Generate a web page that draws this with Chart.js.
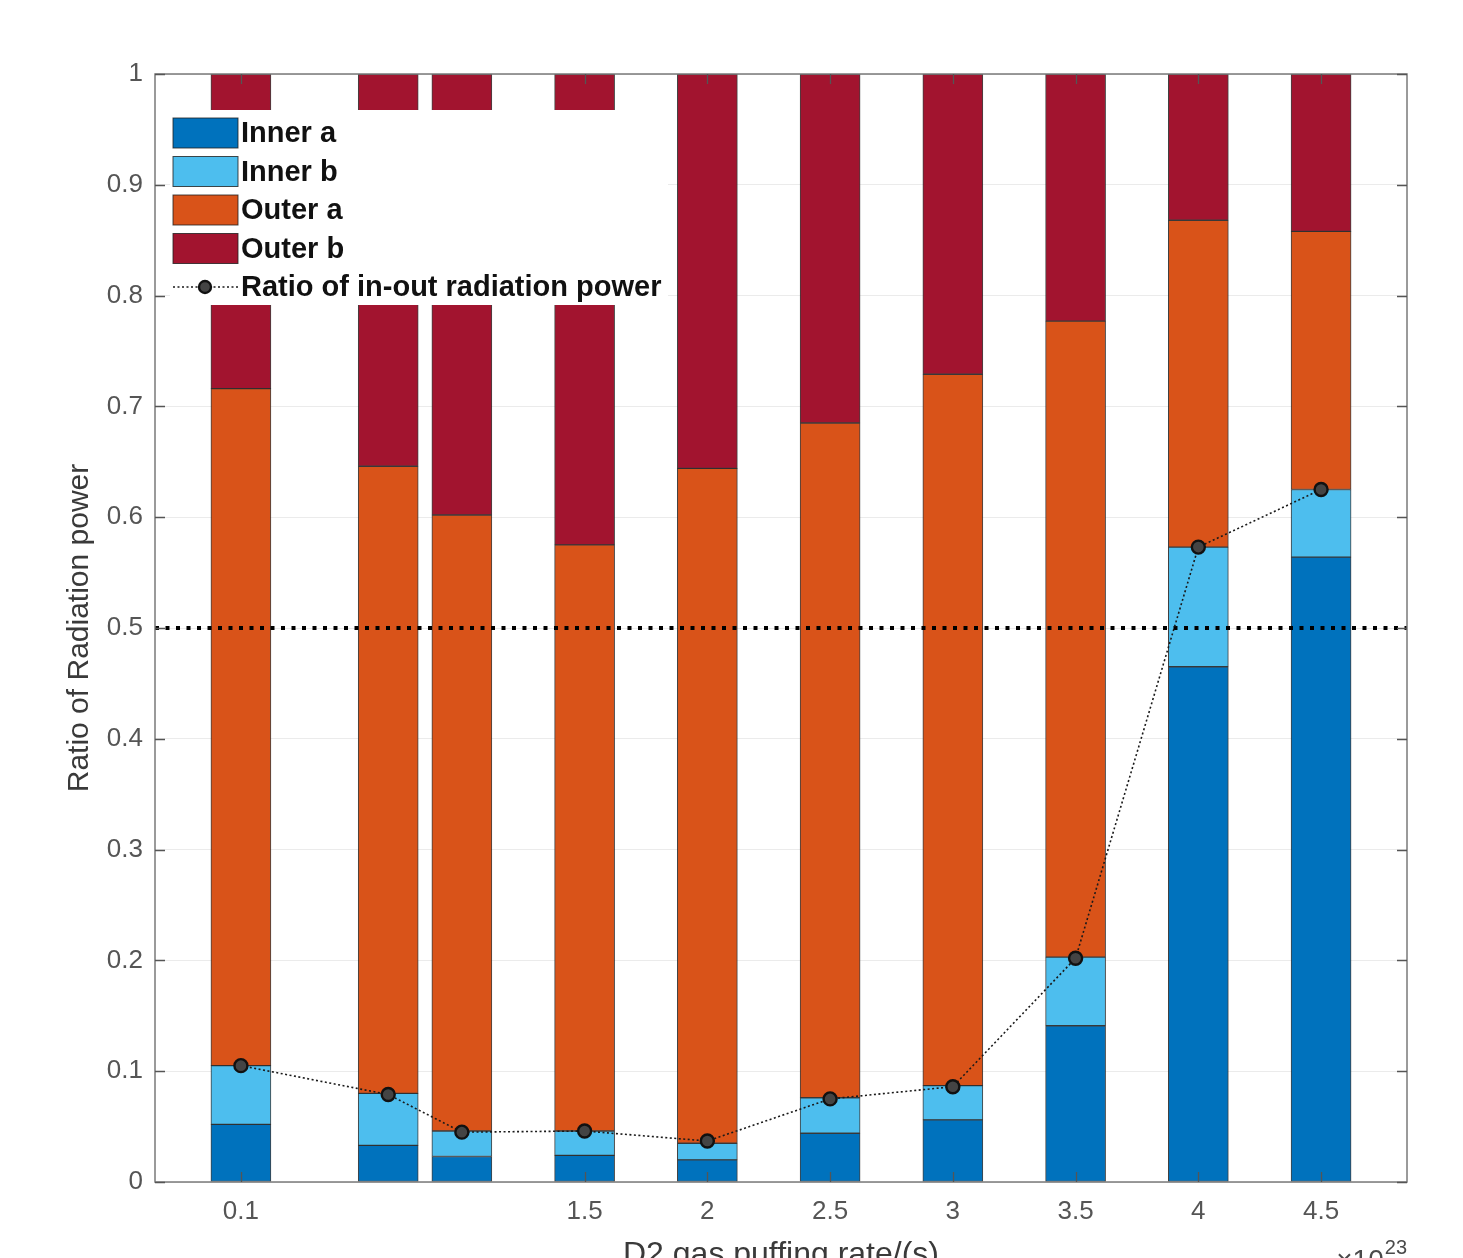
<!DOCTYPE html>
<html>
<head>
<meta charset="utf-8">
<script src="https://cdn.jsdelivr.net/npm/chart.js@4.4.1/dist/chart.umd.min.js"></script>
<style>
  html, body { margin: 0; padding: 0; background: #fff; overflow: hidden; }
  canvas { display: block; }
</style>
</head>
<body>
<canvas id="chart" width="1463" height="1258"></canvas>
<script>
// D2 gas puffing rate (x 10^23 /s)
const puffRates = [0.1, 0.7, 1.0, 1.5, 2.0, 2.5, 3.0, 3.5, 4.0, 4.5];

// Share of radiated power in each divertor region (stacked segments)
const innerA = [0.052, 0.033, 0.023, 0.024, 0.020, 0.044, 0.056, 0.141, 0.465, 0.564];
const innerB = [0.053, 0.047, 0.023, 0.022, 0.015, 0.032, 0.031, 0.062, 0.108, 0.061];
const outerA = [0.611, 0.566, 0.556, 0.529, 0.609, 0.609, 0.642, 0.574, 0.295, 0.233];
const outerB = [0.284, 0.354, 0.398, 0.425, 0.356, 0.315, 0.271, 0.223, 0.132, 0.142];

// Ratio of inner to total radiated power
const inOutRatio = [0.105, 0.079, 0.045, 0.046, 0.037, 0.075, 0.086, 0.202, 0.573, 0.625];

// Reference level
const halfLevel = 0.5;

// Axis ticks
const xTickValues = [0.1, 1.5, 2, 2.5, 3, 3.5, 4, 4.5];
const xRange = [-0.25, 4.85];
const yRange = [0, 1];
const yStep = 0.1;

const seriesNames = ['Inner a', 'Inner b', 'Outer a', 'Outer b'];
const seriesColors = ['#0072BD', '#4DBEEE', '#D95319', '#A2142F'];
const ratioName = 'Ratio of in-out radiation power';

const FONT = '"Liberation Sans", Arial, Helvetica, sans-serif';

const toPoints = (vals) => vals.map((v, i) => ({ x: puffRates[i], y: v }));

const barSets = [innerA, innerB, outerA, outerB].map((vals, i) => ({
  type: 'bar',
  label: seriesNames[i],
  data: toPoints(vals),
  backgroundColor: seriesColors[i],
  borderColor: 'rgba(30,30,30,0.85)',
  borderWidth: 1,
  borderSkipped: false,
  barThickness: 60,
  stack: 'regions',
  order: 1
}));

const ratioSet = {
  type: 'line',
  label: ratioName,
  data: toPoints(inOutRatio),
  borderColor: '#1a1a1a',
  borderWidth: 1.6,
  borderDash: [2, 2.5],
  pointRadius: 6.5,
  pointBorderWidth: 2.4,
  pointBorderColor: '#111',
  pointBackgroundColor: '#444',
  stack: 'ratio',
  order: -2,
  tension: 0
};

const halfSet = {
  type: 'line',
  label: 'half',
  data: [{ x: xRange[0], y: halfLevel }, { x: xRange[1], y: halfLevel }],
  borderColor: '#000',
  borderWidth: 4,
  borderDash: [4, 6.5],
  borderCapStyle: 'butt',
  pointRadius: 0,
  stack: 'half',
  order: -1
};

// Axes frame with inward ticks, in-plot legend, and the x-axis exponent
const framePlugin = {
  id: 'frame',
  afterDraw(chart) {
    const { ctx, chartArea: a, scales: { x, y } } = chart;
    ctx.save();

    // legend panel
    const lx = 170, ly = 110, lw = 498, lh = 195;
    ctx.fillStyle = '#fff';
    ctx.fillRect(lx, ly, lw, lh);
    const rowH = 38.5;
    const row0 = 133;
    ctx.font = 'bold 29px ' + FONT;
    ctx.textBaseline = 'middle';
    ctx.textAlign = 'left';
    seriesNames.forEach((name, i) => {
      const cy = row0 + i * rowH;
      ctx.fillStyle = seriesColors[i];
      ctx.fillRect(173, cy - 15, 65, 30);
      ctx.strokeStyle = 'rgba(30,30,30,0.8)';
      ctx.lineWidth = 1;
      ctx.strokeRect(173, cy - 15, 65, 30);
      ctx.fillStyle = '#111';
      ctx.fillText(name, 241, cy + 1);
    });
    const ry = row0 + 4 * rowH;
    ctx.strokeStyle = '#1a1a1a';
    ctx.lineWidth = 1.6;
    ctx.setLineDash([2, 2.5]);
    ctx.beginPath();
    ctx.moveTo(173, ry);
    ctx.lineTo(238, ry);
    ctx.stroke();
    ctx.setLineDash([]);
    ctx.beginPath();
    ctx.arc(205, ry, 6, 0, Math.PI * 2);
    ctx.fillStyle = '#444';
    ctx.fill();
    ctx.lineWidth = 2.4;
    ctx.strokeStyle = '#111';
    ctx.stroke();
    ctx.fillStyle = '#111';
    ctx.fillText(ratioName, 241, ry + 1);

    // box
    ctx.strokeStyle = '#7a7a7a';
    ctx.lineWidth = 1.5;
    ctx.strokeRect(a.left, a.top, a.right - a.left, a.bottom - a.top);

    // inward ticks
    const tl = 10;
    ctx.strokeStyle = '#555';
    ctx.lineWidth = 1.3;
    ctx.beginPath();
    y.ticks.forEach(t => {
      const py = Math.round(y.getPixelForValue(t.value)) + 0.5;
      ctx.moveTo(a.left, py); ctx.lineTo(a.left + tl, py);
      ctx.moveTo(a.right, py); ctx.lineTo(a.right - tl, py);
    });
    x.ticks.forEach(t => {
      const px = Math.round(x.getPixelForValue(t.value)) + 0.5;
      ctx.moveTo(px, a.bottom); ctx.lineTo(px, a.bottom - tl);
      ctx.moveTo(px, a.top); ctx.lineTo(px, a.top + tl);
    });
    ctx.stroke();

    // exponent label
    ctx.fillStyle = '#4a4a4a';
    ctx.textAlign = 'right';
    ctx.textBaseline = 'alphabetic';
    ctx.font = '20px ' + FONT;
    ctx.fillText('23', a.right, 1254);
    const supW = ctx.measureText('23').width;
    ctx.font = '28px ' + FONT;
    ctx.fillText('\u00d710', a.right - supW - 1, 1269);

    ctx.restore();
  }
};

new Chart(document.getElementById('chart'), {
  data: { datasets: [ratioSet, halfSet, ...barSets] },
  options: {
    responsive: false,
    animation: false,
    events: [],
    layout: { padding: { top: 74, right: 56, left: 0, bottom: 0 } },
    plugins: {
      legend: { display: false },
      tooltip: { enabled: false }
    },
    scales: {
      x: {
        type: 'linear',
        stacked: true,
        offset: false,
        min: xRange[0],
        max: xRange[1],
        afterBuildTicks: (s) => { s.ticks = xTickValues.map(v => ({ value: v })); },
        afterFit: (s) => { s.height = 76; },
        ticks: {
          autoSkip: false,
          maxRotation: 0,
          padding: 14,
          color: '#555',
          font: { family: FONT, size: 26 },
          callback: (v) => String(v)
        },
        grid: { display: false, drawTicks: false, offset: false },
        border: { display: false },
        title: {
          display: true,
          text: 'D2 gas puffing rate/(s)',
          color: '#3a3a3a',
          font: { family: FONT, size: 32 },
          padding: { top: 0, bottom: -16 }
        }
      },
      y: {
        type: 'linear',
        stacked: true,
        min: yRange[0],
        max: yRange[1],
        afterFit: (s) => { s.width = 155; },
        ticks: {
          stepSize: yStep,
          padding: 12,
          color: '#555',
          font: { family: FONT, size: 26 },
          callback: (v) => String(Math.round(v * 10) / 10)
        },
        grid: { color: '#ebebeb', lineWidth: 1, drawTicks: false },
        border: { display: false },
        title: {
          display: true,
          text: 'Ratio of Radiation power',
          color: '#3a3a3a',
          font: { family: FONT, size: 30 },
          padding: { top: 62, bottom: 0 }
        }
      }
    }
  },
  plugins: [framePlugin]
});
</script>
</body>
</html>
